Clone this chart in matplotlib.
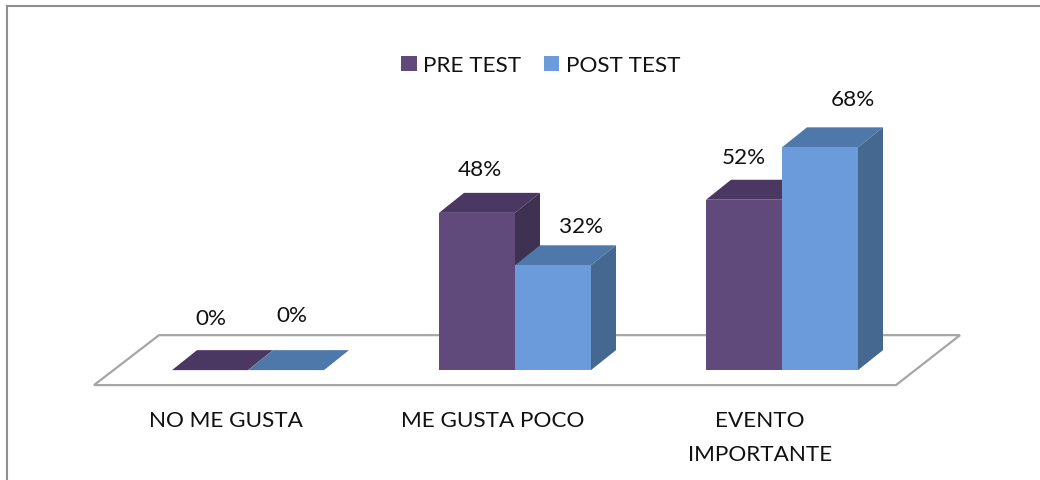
import numpy as np
import matplotlib
matplotlib.use("Agg")
import matplotlib.pyplot as plt
from matplotlib.patches import Polygon

categories = ["NO ME GUSTA", "ME GUSTA POCO", "EVENTO\nIMPORTANTE"]
pre_test = [0, 48, 52]
post_test = [0, 32, 68]
series_names = ["PRE TEST", "POST TEST"]

plt.rcParams['font.family'] = ['Lato', 'DejaVu Sans']

# pixels per category / per percent point in the reference
x_px = 267.
y_px = 3.28
bar_w = 76. / x_px
depth_x = 25. / x_px
depth_y = 20. / y_px

fig = plt.figure(figsize=(10.4, 4.81), dpi=100)
ax = fig.add_axes([7 / 1040, 0, 1033 / 1040, 474 / 481])
ax.set_xlim((7 - 248) / x_px, (1040 - 248) / x_px)
ax.set_ylim(-(481 - 371) / y_px, (371.5 - 7) / y_px)
ax.set_xticks([])
ax.set_yticks([])
ax.spines['right'].set_visible(False)
ax.spines['bottom'].set_visible(False)
for side in ['top', 'left']:
    ax.spines[side].set_color('#8f8f8f')
    ax.spines[side].set_linewidth(1.5)

# floor of the 3d chart
floor_front = -15. / y_px
floor_back = 35. / y_px
floor = Polygon([((94 - 248) / x_px, floor_front), ((896 - 248) / x_px, floor_front),
                 ((960 - 248) / x_px, floor_back), ((159 - 248) / x_px, floor_back)],
                closed=True, fill=False, edgecolor='#a6a6a6', linewidth=1.6, zorder=1)
ax.add_patch(floor)


def draw_bars(xs, values, front, top, side, label):
    for x, v in zip(xs, values):
        left, right = x - bar_w / 2, x + bar_w / 2
        ax.add_patch(Polygon([(left, v), (right, v), (right + depth_x, v + depth_y),
                              (left + depth_x, v + depth_y)], facecolor=top, edgecolor='none', zorder=2))
        ax.add_patch(Polygon([(right, 0), (right + depth_x, depth_y), (right + depth_x, v + depth_y),
                              (right, v)], facecolor=side, edgecolor='none', zorder=2))
    return ax.bar(xs, values, width=bar_w, color=front, label=label, zorder=2)


positions = np.arange(len(categories))
bars_pre = draw_bars(positions - bar_w / 2, pre_test, '#604a7b', '#4b3862', '#3f3151', series_names[0])
bars_post = draw_bars(positions + bar_w / 2, post_test, '#6c9bdb', '#4f78aa', '#44688f', series_names[1])

# the value labels were placed by hand in the original
pre_offsets = [(1, 52), (3, 44), (0, 43)]
post_offsets = [(6, 55), (28, 39), (33, 48)]
for xs, values, offsets in [(positions - bar_w / 2, pre_test, pre_offsets),
                            (positions + bar_w / 2, post_test, post_offsets)]:
    for x, v, (dx, dy) in zip(xs, values, offsets):
        ax.annotate(f"{v}%", (x, v), xytext=(dx * 0.72, dy * 0.72), textcoords='offset points',
                    ha='center', va='center', fontsize=16.2, color='#111111')

for x, name in zip(positions, categories):
    ax.annotate(name, (x, 0), xytext=(-16, -40 * 0.72), textcoords='offset points',
                ha='center', va='top', fontsize=16.2, color='#111111', linespacing=1.84)

ax.legend(handles=[bars_pre, bars_post], loc='center', bbox_to_anchor=(0.517, 0.875),
          ncol=2, frameon=False, fontsize=16.2, handlelength=0.67, handleheight=0.67,
          handletextpad=0.31, columnspacing=1.0, labelcolor='#111111')

fig.savefig("out.png", dpi=100)
